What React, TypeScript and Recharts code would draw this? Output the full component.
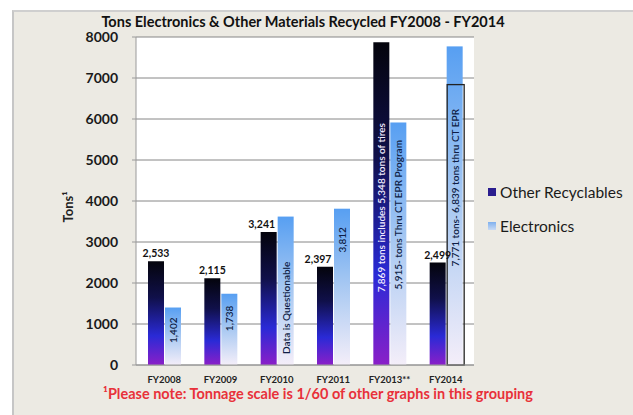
import React from "react"
import { BarChart, Bar, XAxis, YAxis, CartesianGrid, LabelList } from "recharts"

// values
const categories = ["FY2008", "FY2009", "FY2010", "FY2011", "FY2013**", "FY2014"]
const otherRecyclables = [2533, 2115, 3241, 2397, 7869, 2499]
const electronics = [1402, 1738, 3620, 3812, 5915, 7771]
// part of the FY2014 electronics that went through CT EPR (outlined box)
const electronicsEpr = [0, 0, 0, 0, 0, 6839]
const otherLabels = ["2,533", "2,115", "3,241", "2,397", "7,869 tons includes 5,348 tons of tires", "2,499"]
const electronicsLabels = [
  "1,402",
  "1,738",
  "Data is Questionable",
  "3,812",
  "5,915- tons Thru CT EPR Program",
  "7,771 tons- 6,839 tons thru CT EPR",
]
const yTicks = [0, 1000, 2000, 3000, 4000, 5000, 6000, 7000, 8000]

const data = categories.map((name, i) => ({
  name,
  other: otherRecyclables[i],
  electronics: electronics[i],
  epr: electronicsEpr[i],
  otherLabel: otherLabels[i],
  electronicsLabel: electronicsLabels[i],
}))

const FONT = "Lato, 'DejaVu Sans', sans-serif"

// label nudges so the text sits roughly where Excel put it
const rotatedShift = [-6, -11, 17, -47, -29, -18]
const topLabelShift = [0, 0, -7, -7, 0, 0]

const OtherLabel = (props: any) => {
  const { x, y, width, height, index, value } = props
  const cx = x + width / 2
  if (String(value).length > 8) {
    const cy = y + height / 2 + 4
    return (
      <text
        x={cx}
        y={cy}
        transform={`rotate(-90 ${cx} ${cy})`}
        textAnchor="middle"
        dominantBaseline="central"
        fontSize={10}
        fontWeight={600}
        fill="#f2ecff"
        fontFamily={FONT}
      >
        {value}
      </text>
    )
  }
  return (
    <text
      x={cx + topLabelShift[index]}
      y={y - 4}
      textAnchor="middle"
      fontSize={10.5}
      fontWeight={700}
      fill="#111"
      fontFamily={FONT}
    >
      {value}
    </text>
  )
}

const ElectronicsLabel = (props: any) => {
  const { x, y, width, height, index, value } = props
  const cx = x + width / 2
  const cy = y + height / 2 + rotatedShift[index]
  return (
    <text
      x={cx}
      y={cy}
      transform={`rotate(-90 ${cx} ${cy})`}
      textAnchor="middle"
      dominantBaseline="central"
      fontSize={10}
      fontWeight={600}
      fill="#0f1d45"
      fontFamily={FONT}
    >
      {value}
    </text>
  )
}

const ElectronicsShape = (props: any) => {
  const { x, y, width, height, payload } = props
  const boxH = payload.epr ? (height * payload.epr) / payload.electronics : 0
  return (
    <g>
      <rect x={x} y={y} width={width} height={height} fill="url(#elecGrad)" />
      {boxH > 0 && (
        <rect
          x={x + 0.5}
          y={y + height - boxH}
          width={width + 1}
          height={boxH}
          fill="none"
          stroke="#222"
          strokeWidth={1.3}
        />
      )}
    </g>
  )
}

export default function App() {
  return (
    <div style={{ position: "absolute", left: 0, top: 0, width: 633, height: 415, background: "#fff" }}>
      <div
        style={{
          position: "absolute",
          left: 12,
          top: 10,
          width: 621,
          height: 405,
          background: "#eceae3",
          borderLeft: "2px solid #c6c6c6",
          borderTop: "2px solid #cfcfcf",
        }}
      />
      <div
        style={{
          position: "absolute",
          left: 0,
          width: 606,
          top: 14,
          lineHeight: "16px",
          textAlign: "center",
          fontFamily: FONT,
          fontWeight: 700,
          fontSize: 14.5,
          color: "#111",
        }}
      >
        Tons Electronics &amp; Other Materials Recycled FY2008 - FY2014
      </div>
      <div style={{ position: "absolute", left: 0, top: 0 }}>
        <BarChart
          width={633}
          height={415}
          data={data}
          margin={{ top: 37, right: 159, left: 76, bottom: 20 }}
          barSize={16}
          barGap={1}
          barCategoryGap={12}
        >
          <defs>
            <linearGradient id="otherGrad" x1="0" y1="0" x2="0" y2="1">
              <stop offset="0" stopColor="#04040c" />
              <stop offset="0.35" stopColor="#10104a" />
              <stop offset="0.72" stopColor="#2a2ad6" />
              <stop offset="1" stopColor="#8a1fc8" />
            </linearGradient>
            <linearGradient id="elecGrad" x1="0" y1="0" x2="0" y2="1">
              <stop offset="0" stopColor="#579ff2" />
              <stop offset="0.5" stopColor="#a9c9f2" />
              <stop offset="1" stopColor="#f4eef9" />
            </linearGradient>
          </defs>
          <CartesianGrid vertical={false} stroke="#868686" fill="#ffffff" />
          <XAxis
            dataKey="name"
            axisLine={{ stroke: "#9a9a9a" }}
            tickLine={false}
            tickSize={6}
            tickMargin={5}
            height={30}
            tick={{ fontSize: 9.5, fontWeight: 700, fill: "#222", fontFamily: FONT }}
          />
          <YAxis
            domain={[0, 8000]}
            ticks={yTicks}
            width={60}
            axisLine={{ stroke: "#9a9a9a" }}
            tickLine={{ stroke: "#9a9a9a" }}
            tickSize={4}
            tickMargin={14}
            tick={{ fontSize: 14, fontWeight: 700, fill: "#1a1a1a", fontFamily: FONT }}
            label={{
              content: () => (
                <text
                  x={68}
                  y={207}
                  transform="rotate(-90 68 207)"
                  textAnchor="middle"
                  dominantBaseline="central"
                  fontSize={13}
                  fontWeight={700}
                  fill="#222"
                  fontFamily={FONT}
                >
                  Tons¹
                </text>
              ),
            }}
          />
          <Bar dataKey="other" fill="url(#otherGrad)" isAnimationActive={false}>
            <LabelList dataKey="otherLabel" content={OtherLabel} />
          </Bar>
          <Bar dataKey="electronics" shape={ElectronicsShape} isAnimationActive={false}>
            <LabelList dataKey="electronicsLabel" content={ElectronicsLabel} />
          </Bar>
        </BarChart>
      </div>
      <div style={{ position: "absolute", left: 488, top: 182, fontFamily: FONT, fontSize: 15.5, color: "#1a1a1a" }}>
        <div style={{ display: "flex", alignItems: "center", height: 20 }}>
          <span style={{ width: 8, height: 8, background: "#2a1d8f", marginRight: 4, display: "inline-block" }} />
          Other Recyclables
        </div>
        <div style={{ display: "flex", alignItems: "center", height: 20, marginTop: 14 }}>
          <span
            style={{
              width: 8,
              height: 8,
              background: "linear-gradient(#7fb0ee, #c8daf4)",
              marginRight: 4,
              display: "inline-block",
            }}
          />
          Electronics
        </div>
      </div>
      <div
        style={{
          position: "absolute",
          left: 0,
          width: 636,
          top: 387,
          lineHeight: "14px",
          textAlign: "center",
          fontFamily: FONT,
          fontWeight: 700,
          fontSize: 14.5,
          color: "#e8313a",
        }}
      >
        ¹Please note: Tonnage scale is 1/60 of other graphs in this grouping
      </div>
    </div>
  )
}
